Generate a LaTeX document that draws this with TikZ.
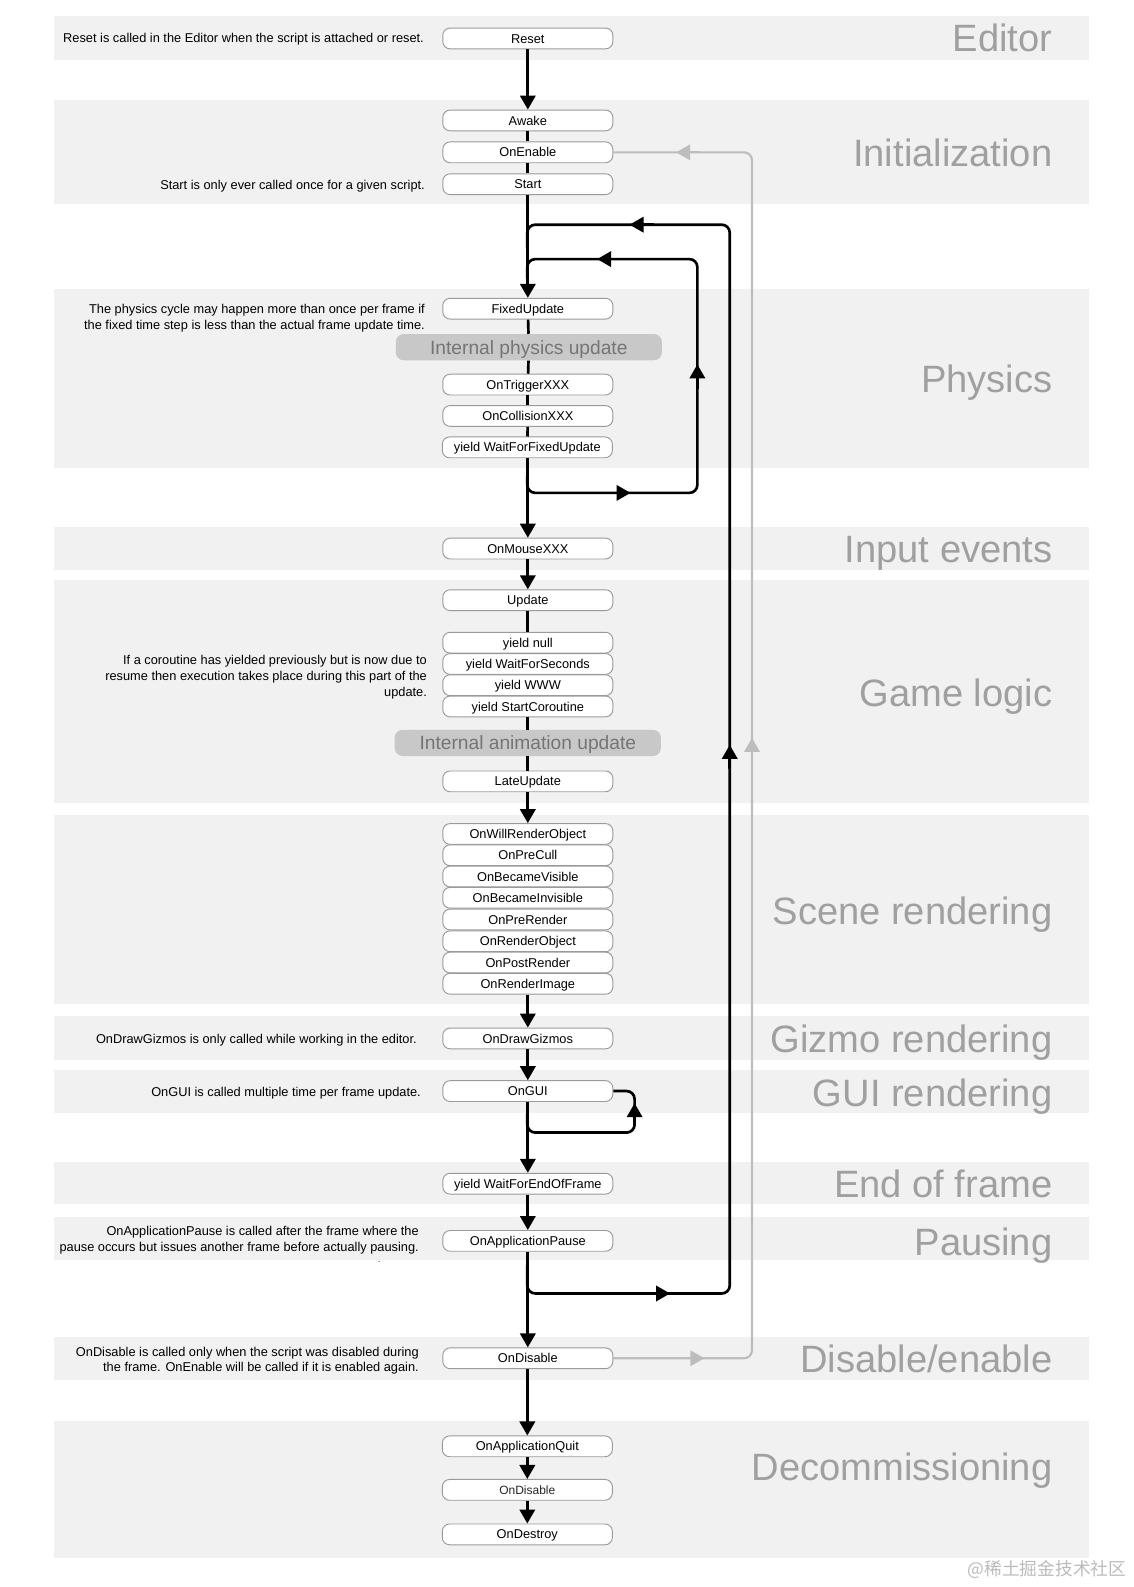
\documentclass[tikz,border=0pt]{standalone}
\usepackage{fontspec}
\setmainfont{Liberation Sans}
\newfontfamily\cjk{Noto Sans CJK SC}
\usetikzlibrary{arrows.meta}
\definecolor{band}{HTML}{F1F1F1}
\definecolor{titlegray}{HTML}{A0A0A0}
\definecolor{boxline}{HTML}{9A9A9A}
\definecolor{pillfill}{HTML}{C8C8C8}
\definecolor{pilltext}{HTML}{757575}
\definecolor{loopgray}{HTML}{BDBDBD}
\definecolor{wm}{HTML}{BBBBBB}
\begin{document}
\begin{tikzpicture}[x=0.759375pt,y=-0.759375pt,
  fn/.style={draw=boxline, line width=0.7pt, fill=white, rounded corners=5.5pt,
    minimum width=127.6pt, minimum height=15.6pt, inner sep=0pt,
    text height=6.9pt, text depth=0pt, font=\fontsize{9.6}{11.8}\selectfont},
  pill/.style={fill=pillfill, rounded corners=6pt, minimum width=199.7pt,
    minimum height=19.7pt, inner sep=0pt, text=pilltext, text height=10.3pt, text depth=0pt,
    font=\fontsize{14.4}{17}\selectfont},
  note/.style={anchor=east, inner sep=0pt, align=right, font=\fontsize{9.6}{11.8}\selectfont},
  phase/.style={anchor=base east, inner sep=0pt, text=titlegray, font=\fontsize{28.6}{32}\selectfont},
  flow/.style={line width=2pt, -{Triangle[length=10.5pt,width=11.5pt]}},
  seg/.style={line width=2pt},
  loopline/.style={line width=2pt, rounded corners=6pt},
  looptip/.style={line width=2pt, -{Triangle[length=10.5pt,width=11.5pt]}},
  grayline/.style={line width=1.6pt, draw=loopgray, rounded corners=6pt},
  graytip/.style={line width=1.6pt, draw=loopgray, -{Triangle[length=10.5pt,width=11.5pt]}, loopgray},
]
\useasboundingbox (0,0) rectangle (1120,1568);
% bands
\foreach \a/\b in {16/59, 99/202, 286/462, 521/563, 573/793, 805/992, 1004/1047, 1057/1100, 1148/1190, 1202/1245, 1321/1363, 1404/1539}
  \fill[band] (53,\a) rectangle (1076,\b);
% phase titles
\node[phase] (tEditor) at (1040,51) {Editor};
\node[phase] (tInit) at (1040,165) {Initialization};
\node[phase] (tPhys) at (1040,388) {Physics};
\node[phase] (tInput) at (1040,556) {Input events};
\node[phase] (tGame) at (1040,698) {Game logic};
\node[phase] (tScene) at (1040,913) {Scene rendering};
\node[phase] (tGizmo) at (1040,1040) {Gizmo rendering};
\node[phase] (tGui) at (1040,1093) {GUI rendering};
\node[phase] (tEnd) at (1040,1183) {End of frame};
\node[phase] (tPause) at (1040,1240) {Pausing};
\node[phase] (tDis) at (1040,1356) {Disable/enable};
\node[phase] (tDecom) at (1040,1463) {Decommissioning};
% notes
\node[note] (n1) at (419,39) {Reset is called in the Editor when the script is attached or reset.};
\node[note] (n2) at (420,184) {Start is only ever called once for a given script.};
\node[note] (n3) at (420,314.5) {The physics cycle may happen more than once per frame if\\the fixed time step is less than the actual frame update time.};
\node[note] (n4) at (422,669) {If a coroutine has yielded previously but is now due to\\resume then execution takes place during this part of the\\update.};
\node[note] (n5) at (412,1028) {OnDrawGizmos is only called while working in the editor.};
\node[note] (n6) at (416,1080) {OnGUI is called multiple time per frame update.};
\node[note] (n7) at (414,1225) {OnApplicationPause is called after the frame where the\\pause occurs but issues another frame before actually pausing.};
\node[note, font=\fontsize{6}{7}\selectfont] (n7dot) at (376,1247) {.};
\node[note] (n8) at (414,1344.5) {OnDisable is called only when the script was disabled during\\the frame. OnEnable will be called if it is enabled again.};
% loops (behind boxes)
\coordinate (oS) at (521,1250);
\coordinate (oC) at (721,222);
\coordinate (oE) at (521,245);
\draw[loopline] (oS) |- (721,1278) -- (oC) -| (oE);
\coordinate (iS) at (521,470);
\coordinate (iC) at (689,256);
\coordinate (iE) at (521,275);
\draw[loopline] (iS) |- (689,487) -- (iC) -| (iE);
\coordinate (gS) at (521,1100);
\coordinate (gC) at (627,1119);
% boxes
\node[fn] (reset) at (521.5,38) {Reset};
\node[fn] (awake) at (521.5,119) {Awake};
\node[fn] (onenable) at (521.5,150.5) {OnEnable};
\node[fn] (start) at (521.5,182) {Start};
\node[fn] (fixed) at (521.5,305) {FixedUpdate};
\node[pill] (physpill) at (522.5,343) {Internal physics update};
\node[fn] (trigger) at (521.5,380) {OnTriggerXXX};
\node[fn] (collision) at (521.5,411) {OnCollisionXXX};
\node[fn] (waitfixed) at (521,442) {yield WaitForFixedUpdate};
\node[fn] (mouse) at (521.5,542) {OnMouseXXX};
\node[fn] (update) at (521.5,593) {Update};
\node[fn] (ynull) at (521.5,635) {yield null};
\node[fn] (ysec) at (521.5,656) {yield WaitForSeconds};
\node[fn] (ywww) at (521.5,677) {yield WWW};
\node[fn] (ystart) at (521.5,698) {yield StartCoroutine};
\node[pill] (animpill) at (521.5,734) {Internal animation update};
\node[fn] (late) at (521.5,772) {LateUpdate};
\node[fn] (willrender) at (521.5,824) {OnWillRenderObject};
\node[fn] (precull) at (521.5,845) {OnPreCull};
\node[fn] (visible) at (521.5,866) {OnBecameVisible};
\node[fn] (invisible) at (521.5,887) {OnBecameInvisible};
\node[fn] (prerender) at (521.5,908.5) {OnPreRender};
\node[fn] (renderobj) at (521.5,930) {OnRenderObject};
\node[fn] (postrender) at (521.5,951) {OnPostRender};
\node[fn] (renderimage) at (521.5,972) {OnRenderImage};
\node[fn] (gizmos) at (521.5,1026) {OnDrawGizmos};
\node[fn] (gui) at (521.5,1078) {OnGUI};
\node[fn] (eof) at (521.5,1169.5) {yield WaitForEndOfFrame};
\node[fn] (pause) at (521.5,1226) {OnApplicationPause};
\node[fn] (disable) at (521.5,1342) {OnDisable};
\node[fn] (quit) at (521,1429) {OnApplicationQuit};
\node[fn, font=\fontsize{9}{11}\selectfont, text=black!85] (disable2) at (521,1472) {OnDisable};
\node[fn] (destroy) at (521,1516) {OnDestroy};
% main flow
\draw[flow] (reset) -- (awake);
\draw[seg] (awake) -- (onenable);
\draw[seg] (onenable) -- (start);
\draw[flow] (start) -- (fixed);
\draw[seg] (fixed) -- (physpill);
\draw[seg] (physpill) -- (trigger);
\draw[seg] (trigger) -- (collision);
\draw[seg] (collision) -- (waitfixed);
\draw[flow] (waitfixed.south -| mouse.north) -- (mouse);
\draw[flow] (mouse) -- (update);
\draw[seg] (update) -- (ynull);
\draw[seg] (ystart) -- (animpill);
\draw[seg] (animpill) -- (late);
\draw[flow] (late) -- (willrender);
\draw[flow] (renderimage) -- (gizmos);
\draw[flow] (gizmos) -- (gui);
\draw[flow] (gui) -- (eof);
\draw[flow] (eof) -- (pause);
\draw[flow] (pause) -- (disable);
\draw[flow] (disable.south -| quit.north) -- (quit);
\draw[flow] (quit) -- (disable2);
\draw[flow] (disable2) -- (destroy);
% loop arrow tips
\draw[looptip] (636,1278) -- (662,1278);
\draw[looptip] (721,760) -- (721,736);
\draw[looptip] (646,222) -- (622,222);
\draw[looptip] (597,487) -- (623,487);
\draw[looptip] (689,384) -- (689,360);
\draw[looptip] (614,256) -- (590,256);
% GUI loop
\draw[loopline] (gS) |- (gC) |- (gui.east);
\draw[looptip] (627,1112) -- (627,1090);
% gray enable/disable loop
\draw[grayline] (disable.east) -| (743,150.5) -- (onenable.east);
\draw[graytip] (670,1342) -- (696,1342);
\draw[graytip] (743,753) -- (743,729);
\draw[graytip] (692,150.5) -- (668,150.5);
% watermark
\node[anchor=east, inner sep=0pt, text=wm, font=\cjk\fontsize{13.3}{15}\selectfont] (wmark) at (1113,1551) {@稀土掘金技术社区};
\end{tikzpicture}
\end{document}
